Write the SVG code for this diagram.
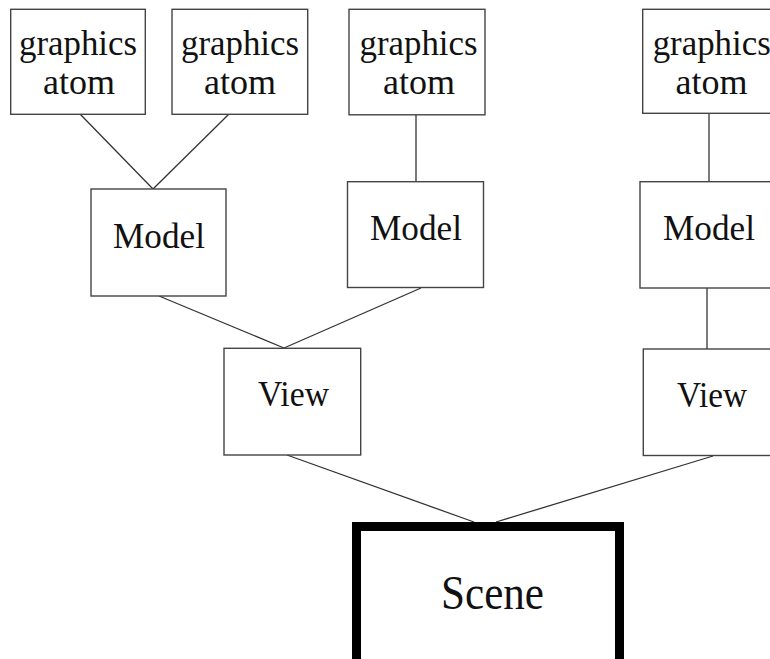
<svg xmlns="http://www.w3.org/2000/svg" width="770" height="659" viewBox="0 0 770 659">
<style>
  .box { fill: #ffffff; stroke: #444444; stroke-width: 1.4; }
  .scene { fill: #ffffff; stroke: #000000; stroke-width: 9; }
  .lbl { font-family: "Liberation Serif", "Times New Roman", serif; font-size: 35.5px; fill: #111111; text-anchor: middle; }
  .big { font-family: "Liberation Serif", "Times New Roman", serif; font-size: 48px; fill: #111111; text-anchor: middle; }
  .conn line { stroke: #333333; stroke-width: 1.3; }
</style>
<rect width="770" height="659" fill="#ffffff"/>
<g id="connectors" class="conn">
  <line x1="80" y1="114" x2="153" y2="189"/>
  <line x1="229" y1="114" x2="153" y2="189"/>
  <line x1="416" y1="115" x2="416" y2="182"/>
  <line x1="709" y1="114" x2="709" y2="182"/>
  <line x1="159" y1="296" x2="284" y2="348"/>
  <line x1="421" y1="288" x2="284" y2="348"/>
  <line x1="707" y1="288" x2="707" y2="349"/>
  <line x1="287" y1="455" x2="474" y2="522"/>
  <line x1="713" y1="456" x2="496" y2="522"/>
</g>
<g id="atom1">
  <rect class="box" x="10.7" y="9.3" width="134.6" height="105"/>
  <text class="lbl" x="78" y="55" textLength="118" lengthAdjust="spacingAndGlyphs">graphics</text>
  <text class="lbl" x="79" y="94" textLength="72" lengthAdjust="spacingAndGlyphs">atom</text>
</g>
<g id="atom2">
  <rect class="box" x="172" y="9.3" width="135.7" height="105"/>
  <text class="lbl" x="240" y="55" textLength="118" lengthAdjust="spacingAndGlyphs">graphics</text>
  <text class="lbl" x="240" y="94" textLength="72" lengthAdjust="spacingAndGlyphs">atom</text>
</g>
<g id="atom3">
  <rect class="box" x="349" y="9.3" width="136" height="105.5"/>
  <text class="lbl" x="418.5" y="55" textLength="118" lengthAdjust="spacingAndGlyphs">graphics</text>
  <text class="lbl" x="419" y="94" textLength="72" lengthAdjust="spacingAndGlyphs">atom</text>
</g>
<g id="atom4">
  <rect class="box" x="642.7" y="9.3" width="136" height="104"/>
  <text class="lbl" x="711.7" y="55" textLength="118" lengthAdjust="spacingAndGlyphs">graphics</text>
  <text class="lbl" x="711.5" y="94" textLength="72" lengthAdjust="spacingAndGlyphs">atom</text>
</g>
<g id="model1">
  <rect class="box" x="91" y="189" width="135" height="107"/>
  <text class="lbl" x="159" y="248" textLength="92" lengthAdjust="spacingAndGlyphs">Model</text>
</g>
<g id="model2">
  <rect class="box" x="347.5" y="181.7" width="136" height="105.8"/>
  <text class="lbl" x="416" y="240" textLength="92" lengthAdjust="spacingAndGlyphs">Model</text>
</g>
<g id="model3">
  <rect class="box" x="640" y="181.7" width="136" height="106.3"/>
  <text class="lbl" x="709" y="240" textLength="92" lengthAdjust="spacingAndGlyphs">Model</text>
</g>
<g id="view1">
  <rect class="box" x="224" y="348.3" width="136.7" height="106.7"/>
  <text class="lbl" x="293.5" y="406" textLength="71" lengthAdjust="spacingAndGlyphs">View</text>
</g>
<g id="view2">
  <rect class="box" x="643.3" y="349" width="136" height="106.5"/>
  <text class="lbl" x="712" y="407" textLength="70" lengthAdjust="spacingAndGlyphs">View</text>
</g>
<g id="scene">
  <rect class="scene" x="356.5" y="526.5" width="263" height="145"/>
  <text class="big" x="492.5" y="609" textLength="103" lengthAdjust="spacingAndGlyphs">Scene</text>
</g>
</svg>
